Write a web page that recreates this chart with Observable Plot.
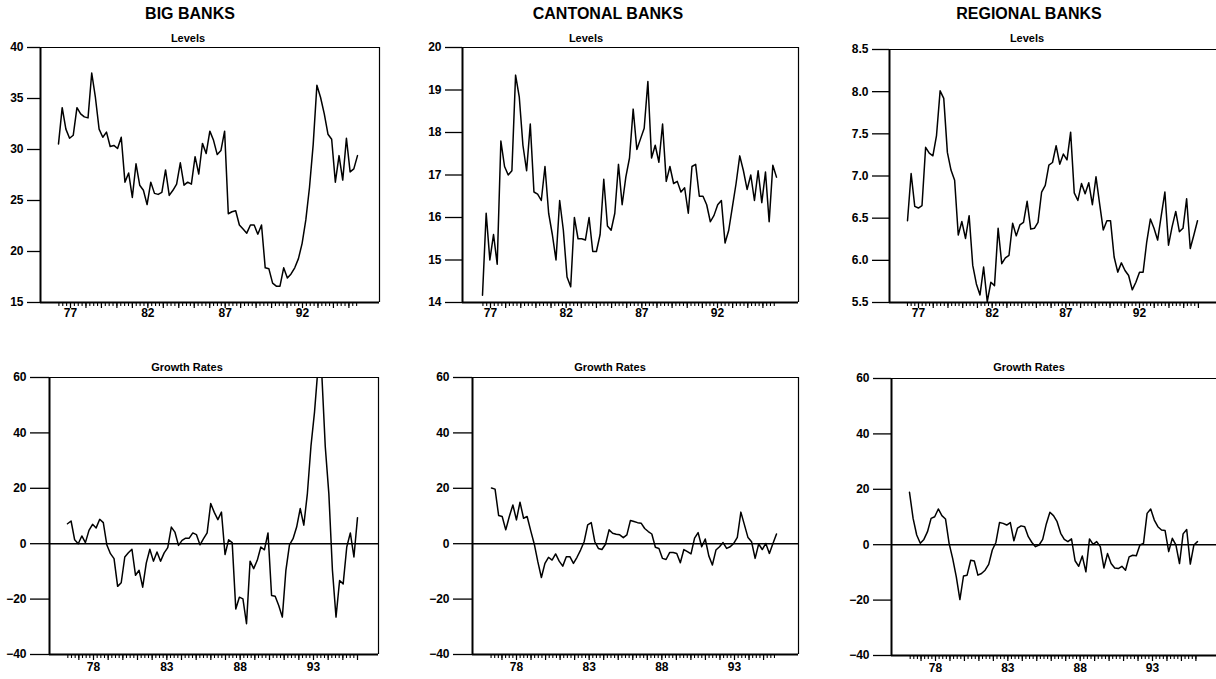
<!DOCTYPE html>
<html><head><meta charset="utf-8">
<script src="https://cdn.jsdelivr.net/npm/d3@7"></script>
<script src="https://cdn.jsdelivr.net/npm/@observablehq/plot@0.6"></script>
<style>
body{margin:0;background:#fff;}
#page{position:relative;width:1216px;height:679px;overflow:hidden;font-family:"Liberation Sans",Arial,sans-serif;color:#000;background:#fff;}
.t{position:absolute;transform:translate(-50%,-50%);white-space:nowrap;font-weight:bold;line-height:1;}
.h{font-size:16px;}
.s{font-size:11px;}
#page svg{position:absolute;left:0;top:0;}
</style></head><body><div id="page"></div>
<script>
// ---------- data ----------
const columns = ["BIG BANKS", "CANTONAL BANKS", "REGIONAL BANKS"];
const rowTitles = ["Levels", "Growth Rates"];
const levelYears = [1977, 1982, 1987, 1992];
const growthYears = [1978, 1983, 1988, 1993];
const bigTicks = [15, 20, 25, 30, 35, 40];
const cantonalTicks = [14, 15, 16, 17, 18, 19, 20];
const regionalTicks = [5.5, 6, 6.5, 7, 7.5, 8, 8.5];
const growthTicks = [-40, -20, 0, 20, 40, 60];

const bigLevels = [30.55,34.1,32.0,31.1,31.4,34.1,33.5,33.2,33.1,37.5,35.1,32.0,31.2,31.7,30.3,30.4,30.1,31.2,26.8,27.7,25.3,28.6,26.5,26.0,24.6,26.8,25.7,25.6,25.8,28.0,25.5,26.0,26.6,28.7,26.5,26.8,26.6,29.3,27.6,30.6,29.6,31.8,30.9,29.5,29.9,31.8,23.7,23.9,24.0,22.6,22.2,21.8,22.6,22.6,21.7,22.6,18.4,18.3,16.9,16.6,16.6,18.4,17.4,17.8,18.4,19.3,20.8,23.1,26.3,30.5,36.3,35.1,33.5,31.5,31.0,26.8,29.4,27.0,31.1,27.8,28.1,29.4];
const cantonalLevels = [14.17,16.1,15.0,15.6,14.9,17.8,17.2,17.0,17.1,19.35,18.84,17.7,17.1,18.2,16.6,16.55,16.4,17.2,16.1,15.6,15.0,16.4,15.7,14.6,14.37,16.0,15.5,15.5,15.47,16.0,15.2,15.2,15.6,16.9,15.8,15.7,16.1,17.25,16.3,16.95,17.4,18.55,17.6,17.85,18.1,19.2,17.4,17.7,17.3,18.2,16.85,17.2,16.8,16.85,16.6,16.7,16.1,17.2,17.25,16.5,16.5,16.3,15.9,16.05,16.3,16.4,15.4,15.7,16.25,16.8,17.45,17.1,16.66,17.0,16.4,17.1,16.35,17.07,15.9,17.23,16.95];
const regionalLevels = [6.47,7.03,6.64,6.62,6.65,7.34,7.27,7.24,7.48,8.01,7.92,7.28,7.07,6.95,6.30,6.46,6.26,6.53,5.94,5.72,5.59,5.92,5.51,5.74,5.70,6.38,5.96,6.03,6.06,6.44,6.29,6.42,6.45,6.70,6.37,6.38,6.45,6.81,6.89,7.13,7.16,7.36,7.14,7.26,7.19,7.52,6.80,6.71,6.91,6.79,6.92,6.66,6.99,6.67,6.36,6.47,6.47,6.04,5.86,5.97,5.88,5.82,5.65,5.74,5.86,5.86,6.22,6.49,6.38,6.24,6.53,6.81,6.18,6.40,6.58,6.34,6.38,6.73,6.14,6.30,6.47];
const bigGrowth = [7.2,8.2,1.4,0,2.8,0.4,4.8,7.0,5.7,8.8,7.6,-0.5,-3.6,-5.4,-15.4,-14.1,-4.8,-3.3,-2.0,-11.4,-9.6,-15.7,-7.0,-2.0,-6.3,-3.0,-6.3,-3.3,-1.4,6.0,4.2,-0.6,1.2,2.0,2.0,3.9,3.3,-0.4,1.8,3.9,14.5,11.3,8.7,11.4,-3.9,1.4,0.4,-23.6,-19.3,-19.9,-28.9,-6.3,-9.0,-6.0,-1.2,-2.2,3.9,-18.7,-19.0,-22.3,-26.5,-9.6,-0.4,1.8,6.0,12.7,6.7,18.1,35.2,47.6,64,62,35,18,-9.6,-26.5,-13.3,-14.5,-1.2,3.9,-4.8,9.4];
const cantonalGrowth = [20.1,19.7,10.2,9.8,5.0,9.8,14.0,8.6,15.0,9.2,9.8,4.7,-0.1,-6.5,-12.2,-7.1,-4.9,-5.9,-3.7,-6.3,-8.1,-4.7,-4.7,-7.1,-4.9,-2.3,0.7,6.8,7.6,0.7,-1.7,-2.1,-0.2,5.0,3.8,3.4,3.2,2.2,3.2,8.4,8.0,7.6,7.4,5.5,4.4,3.5,-1.3,-1.7,-5.3,-5.7,-3.2,-3.2,-3.5,-6.9,-2.1,-2.9,-3.7,2.0,4.0,-1.1,1.7,-4.4,-7.7,-2.3,-1.1,0.4,-1.7,-1.1,0.1,2.3,11.4,6.8,2.2,0.7,-5.3,-0.1,-2.1,0.1,-3.5,0.1,3.5];
const regionalGrowth = [18.9,9.5,3.5,0.5,1.9,4.7,9.5,10.1,12.9,10.5,9.3,0.5,-5.0,-11.6,-19.8,-11.3,-11.0,-5.6,-5.9,-11.0,-10.4,-9.2,-7.1,-1.9,0.8,8.0,7.7,7.1,8.0,1.4,6.0,6.8,6.5,2.9,0.8,-0.7,-0.1,1.9,7.5,11.7,10.5,8.3,4.1,1.9,1.1,2.1,-5.8,-7.8,-4.1,-9.8,2.1,0.1,1.1,-0.7,-8.4,-3.2,-6.8,-8.4,-8.6,-7.8,-9.2,-4.4,-3.8,-4.0,-0.1,0.5,11.3,12.9,8.9,6.5,5.3,5.1,-2.5,2.3,-0.1,-6.8,3.9,5.5,-7.0,-0.1,1.1];

// ---------- layout ----------
const W = 1232, H = 679;
const page = document.getElementById("page");
const fmtInt = d3.format("d"), fmt1 = d3.format(".1f");

const panels = [
  {data: bigLevels, frame: {l: 40, r: 379, t: 47, b: 302}, anchors: [[1977, 70], [1992, 302]], dataPx: [58, 357], y: [15, 40], ticks: bigTicks, fmt: fmtInt, tickSize: 13, years: levelYears, pad: 5},
  {data: cantonalLevels, frame: {l: 462, r: 798, t: 47, b: 302}, anchors: [[1977, 490], [1992, 717]], dataPx: [482, 776], y: [14, 20], ticks: cantonalTicks, fmt: fmtInt, tickSize: 17, years: levelYears, pad: 5},
  {data: regionalLevels, frame: {l: 889, r: 1226, t: 49, b: 302}, anchors: [[1977, 918], [1992, 1139]], dataPx: [907, 1197], y: [5.5, 8.5], ticks: regionalTicks, fmt: fmt1, tickSize: 17, years: levelYears, pad: 5},
  {data: bigGrowth, frame: {l: 49, r: 378, t: 377, b: 654}, anchors: [[1978, 93], [1993, 313]], dataPx: [67, 357], y: [-40, 60], ticks: growthTicks, fmt: fmtInt, tickSize: 19, years: growthYears, pad: 7, zero: true},
  {data: cantonalGrowth, frame: {l: 472, r: 798, t: 377, b: 654}, anchors: [[1978, 516], [1993, 734]], dataPx: [491, 776], y: [-40, 60], ticks: growthTicks, fmt: fmtInt, tickSize: 19, years: growthYears, pad: 7, zero: true},
  {data: regionalGrowth, frame: {l: 891, r: 1226, t: 378, b: 655}, anchors: [[1978, 935], [1993, 1152]], dataPx: [909, 1197], y: [-40, 60], ticks: growthTicks, fmt: fmtInt, tickSize: 18, years: growthYears, pad: 7, zero: true}
];

for (const p of panels) {
  const [[ya, pa], [yb, pb]] = p.anchors;
  const k = (yb - ya) / (pb - pa);
  const toYear = px => ya + (px - pa) * k;
  const t0 = toYear(p.dataPx[0]), t1 = toYear(p.dataPx[1]);
  const n = p.data.length;
  const pts = p.data.map((v, i) => ({t: t0 + i * (t1 - t0) / (n - 1), v}));
  const quarters = d3.range(Math.ceil(t0 * 4 - 0.3), Math.floor(t1 * 4 + 0.3) + 1).map(q => q / 4);
  const yearTicks = quarters.filter(q => Number.isInteger(q));
  const f = p.frame;
  const xd = [toYear(f.l), toYear(f.r)];
  const svg = Plot.plot({
    width: W, height: H,
    marginLeft: f.l, marginRight: W - f.r, marginTop: f.t, marginBottom: H - f.b,
    x: {domain: xd, label: null},
    y: {domain: p.y, label: null},
    style: {background: "transparent", maxWidth: "none", overflow: "visible", fontFamily: "'Liberation Sans', Arial, sans-serif", fontSize: "12px", fontWeight: "bold", color: "black"},
    marks: [
      p.zero ? Plot.ruleY([0], {stroke: "black", strokeWidth: 1.5}) : null,
      Plot.line(pts, {x: "t", y: "v", stroke: "black", strokeWidth: 1.5, clip: true}),
      Plot.ruleY([p.y[1]], {stroke: "black", strokeWidth: 1.2}),
      Plot.ruleX([xd[1]], {stroke: "black", strokeWidth: 1.2}),
      Plot.ruleX([xd[0]], {stroke: "black", strokeWidth: 2}),
      Plot.ruleY([p.y[0]], {stroke: "black", strokeWidth: 2}),
      Plot.axisY({ticks: p.ticks, tickSize: p.tickSize, tickPadding: 4, tickFormat: p.fmt, strokeWidth: 1.3}),
      Plot.axisX({ticks: quarters, tickSize: 4, tickFormat: () => "", strokeWidth: 1.1}),
      Plot.axisX({ticks: yearTicks, tickSize: 6, tickFormat: () => "", strokeWidth: 1.2}),
      Plot.axisX({ticks: p.years, tickSize: 0, tickPadding: p.pad + 1, tickFormat: d => String(d).slice(2)})
    ]
  });
  page.appendChild(svg);
}

// ---------- titles ----------
const titleX = [190, 608, 1029];
const levelsX = [188, 586, 1027];
const growthX = [187, 610, 1029];
function addText(txt, x, y, cls) {
  const d = document.createElement("div");
  d.className = "t " + cls;
  d.style.left = x + "px"; d.style.top = y + "px";
  d.textContent = txt;
  page.appendChild(d);
}
columns.forEach((c, i) => {
  addText(c, titleX[i], 14, "h");
  addText(rowTitles[0], levelsX[i], 38, "s");
  addText(rowTitles[1], growthX[i], 367, "s");
});
</script>
</body></html>
